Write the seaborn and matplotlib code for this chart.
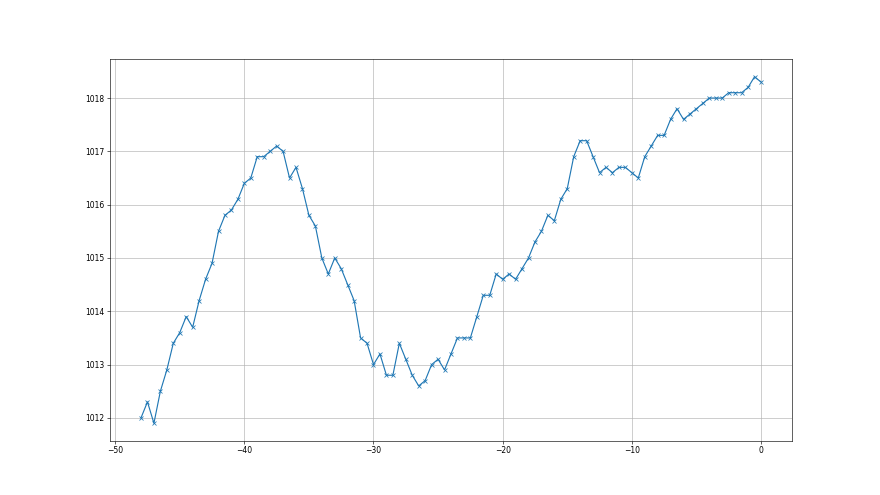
import matplotlib
matplotlib.use("Agg")
import matplotlib.pyplot as plt
import seaborn as sns
import pandas as pd

hours = [
    -48.0, -47.5, -47.0, -46.5, -46.0, -45.5, -45.0, -44.5, -44.0, -43.5,
    -43.0, -42.5, -42.0, -41.5, -41.0, -40.5, -40.0, -39.5, -39.0, -38.5,
    -38.0, -37.5, -37.0, -36.5, -36.0, -35.5, -35.0, -34.5, -34.0, -33.5,
    -33.0, -32.5, -32.0, -31.5, -31.0, -30.5, -30.0, -29.5, -29.0, -28.5,
    -28.0, -27.5, -27.0, -26.5, -26.0, -25.5, -25.0, -24.5, -24.0, -23.5,
    -23.0, -22.5, -22.0, -21.5, -21.0, -20.5, -20.0, -19.5, -19.0, -18.5,
    -18.0, -17.5, -17.0, -16.5, -16.0, -15.5, -15.0, -14.5, -14.0, -13.5,
    -13.0, -12.5, -12.0, -11.5, -11.0, -10.5, -10.0, -9.5, -9.0, -8.5,
    -8.0, -7.5, -7.0, -6.5, -6.0, -5.5, -5.0, -4.5, -4.0, -3.5,
    -3.0, -2.5, -2.0, -1.5, -1.0, -0.5, 0.0,
]

pressure = [
    1012.0, 1012.3, 1011.9, 1012.5, 1012.9, 1013.4, 1013.6, 1013.9, 1013.7, 1014.2,
    1014.6, 1014.9, 1015.5, 1015.8, 1015.9, 1016.1, 1016.4, 1016.5, 1016.9, 1016.9,
    1017.0, 1017.1, 1017.0, 1016.5, 1016.7, 1016.3, 1015.8, 1015.6, 1015.0, 1014.7,
    1015.0, 1014.8, 1014.5, 1014.2, 1013.5, 1013.4, 1013.0, 1013.2, 1012.8, 1012.8,
    1013.4, 1013.1, 1012.8, 1012.6, 1012.7, 1013.0, 1013.1, 1012.9, 1013.2, 1013.5,
    1013.5, 1013.5, 1013.9, 1014.3, 1014.3, 1014.7, 1014.6, 1014.7, 1014.6, 1014.8,
    1015.0, 1015.3, 1015.5, 1015.8, 1015.7, 1016.1, 1016.3, 1016.9, 1017.2, 1017.2,
    1016.9, 1016.6, 1016.7, 1016.6, 1016.7, 1016.7, 1016.6, 1016.5, 1016.9, 1017.1,
    1017.3, 1017.3, 1017.6, 1017.8, 1017.6, 1017.7, 1017.8, 1017.9, 1018.0, 1018.0,
    1018.0, 1018.1, 1018.1, 1018.1, 1018.2, 1018.4, 1018.3,
]

df = pd.DataFrame({"hours": hours, "pressure": pressure})

fig, ax = plt.subplots(figsize=(16, 9), dpi=55)
sns.lineplot(data=df, x="hours", y="pressure", ax=ax, color="#1f77b4",
             marker="x", markeredgecolor="#1f77b4", markeredgewidth=1.0,
             markersize=6, linewidth=1.5)
ax.grid(True)
ax.set_xlabel("")
ax.set_ylabel("")

fig.savefig("out.png", dpi=55)
